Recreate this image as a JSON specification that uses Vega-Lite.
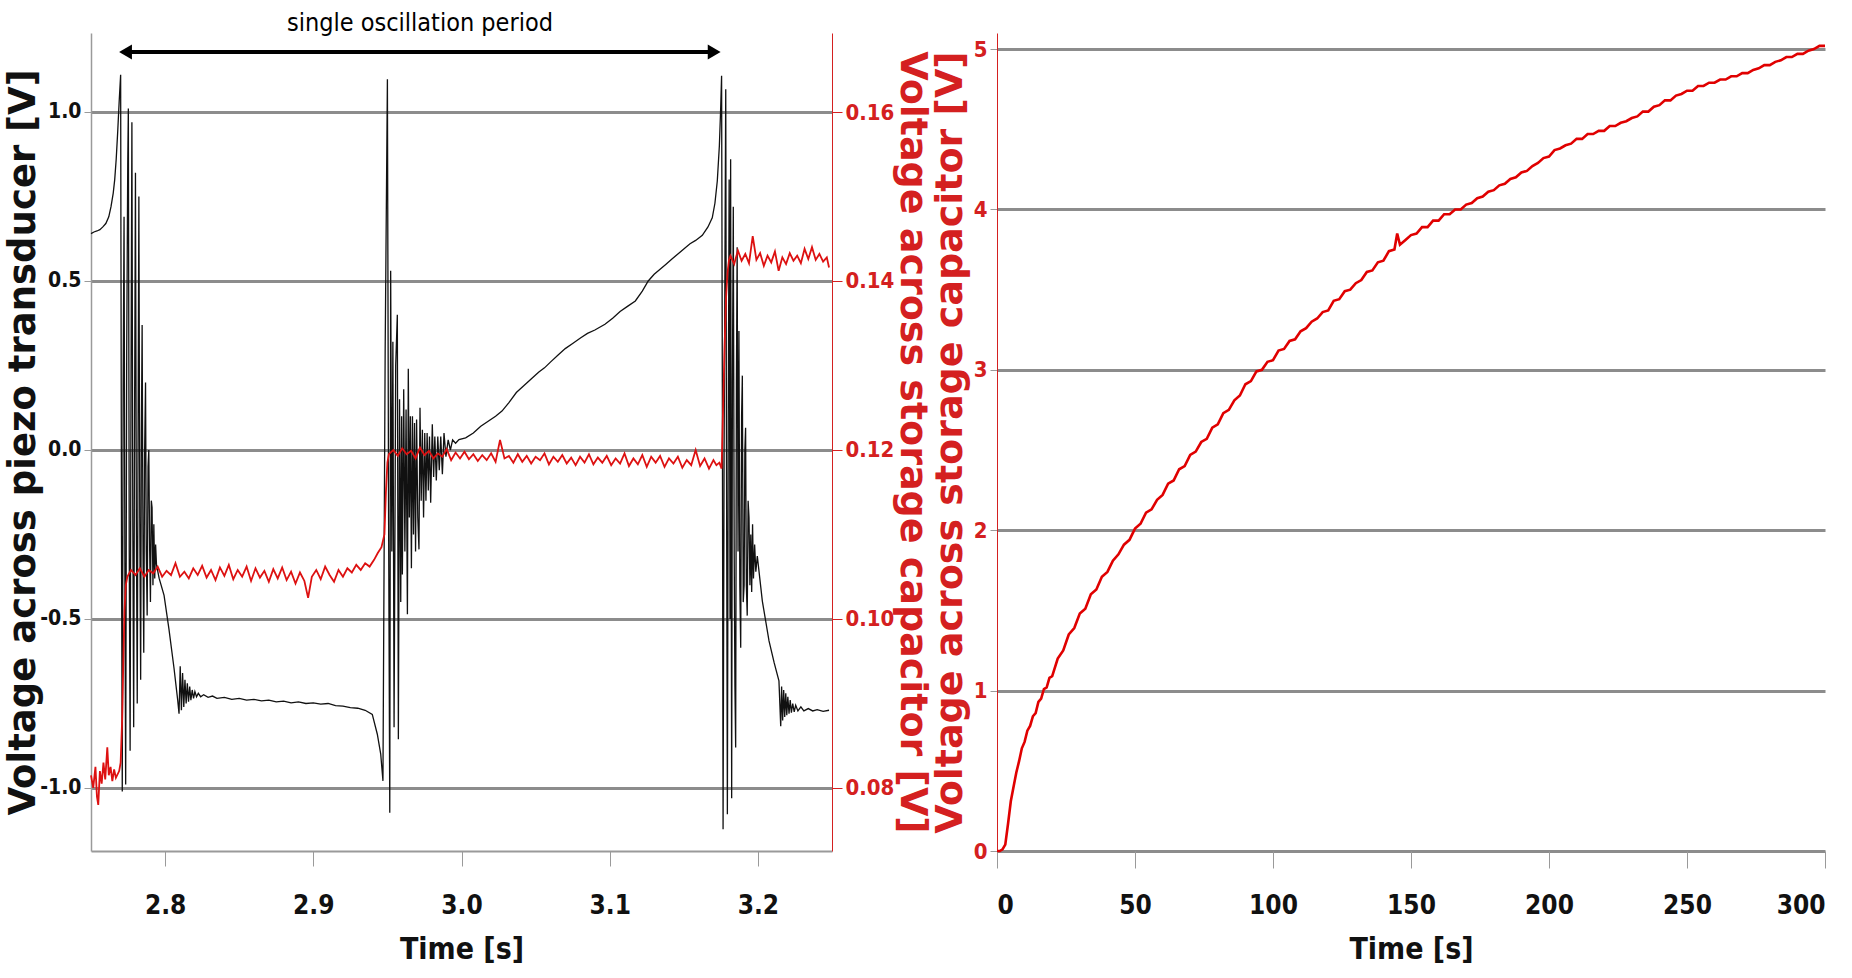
{
  "$schema": "https://vega.github.io/schema/vega-lite/v6.json",
  "background": "white",
  "padding": {"left": 4, "top": 11, "right": 0, "bottom": 0},
  "bounds": "flush",
  "spacing": 165,
  "config": {
    "view": {"stroke": null},
    "axis": {
      "labelFont": "DejaVu Sans Condensed, sans-serif",
      "labelFontWeight": "bold",
      "labelFontSize": 22,
      "labelColor": "#111",
      "titleFont": "DejaVu Sans",
      "titleFontWeight": "bold",
      "titleFontSize": 38,
      "titleColor": "#111",
      "gridColor": "#8c8c8c",
      "gridWidth": 3,
      "gridOpacity": 1,
      "tickColor": "#9a9a9a",
      "domainColor": "#9a9a9a"
    }
  },
  "datasets": {
    "piezo": [
      {"t":2.7500,"v":0.640},{"t":2.7520,"v":0.645},{"t":2.7540,"v":0.648},{"t":2.7560,"v":0.652},{"t":2.7580,"v":0.660},{"t":2.7600,"v":0.670},{"t":2.7620,"v":0.690},{"t":2.7635,"v":0.720},{"t":2.7650,"v":0.760},{"t":2.7660,"v":0.800},{"t":2.7670,"v":0.860},{"t":2.7680,"v":0.940},{"t":2.7690,"v":1.030},{"t":2.7700,"v":1.110},
      {"t":2.7706,"v":-0.30},{"t":2.7711,"v":-1.01},{"t":2.7717,"v":0.20},{"t":2.7723,"v":0.69},{"t":2.7729,"v":-0.40},{"t":2.7734,"v":-0.99},{"t":2.7741,"v":0.30},{"t":2.7748,"v":0.85},{"t":2.7752,"v":1.01},{"t":2.7758,"v":-0.30},{"t":2.7764,"v":-0.89},{"t":2.7770,"v":0.20},{"t":2.7776,"v":0.97},{"t":2.7782,"v":-0.20},{"t":2.7788,"v":-0.82},{"t":2.7794,"v":0.10},{"t":2.7800,"v":0.82},{"t":2.7806,"v":-0.20},{"t":2.7812,"v":-0.75},{"t":2.7818,"v":0.10},{"t":2.7823,"v":0.75},{"t":2.7829,"v":-0.20},{"t":2.7835,"v":-0.68},{"t":2.7840,"v":0.05},{"t":2.7845,"v":0.37},{"t":2.7851,"v":-0.30},{"t":2.7856,"v":-0.60},{"t":2.7862,"v":0.00},{"t":2.7868,"v":0.20},{"t":2.7873,"v":-0.30},{"t":2.7879,"v":-0.49},{"t":2.7885,"v":-0.05},{"t":2.7890,"v":0.00},{"t":2.7896,"v":-0.30},{"t":2.7901,"v":-0.45},{"t":2.7907,"v":-0.15},{"t":2.7912,"v":-0.17},{"t":2.7918,"v":-0.40},{"t":2.7924,"v":-0.22},{"t":2.7930,"v":-0.38},{"t":2.7936,"v":-0.28},{"t":2.7942,"v":-0.34},
      {"t":2.7960,"v":-0.38},{"t":2.7993,"v":-0.43},{"t":2.8026,"v":-0.53},{"t":2.8060,"v":-0.645},{"t":2.8085,"v":-0.74},{"t":2.8094,"v":-0.78},{"t":2.8102,"v":-0.64},{"t":2.8110,"v":-0.77},{"t":2.8118,"v":-0.66},{"t":2.8126,"v":-0.76},{"t":2.8134,"v":-0.68},{"t":2.8142,"v":-0.75},{"t":2.8150,"v":-0.69},{"t":2.8158,"v":-0.745},{"t":2.8166,"v":-0.70},{"t":2.8174,"v":-0.74},{"t":2.8183,"v":-0.71},{"t":2.8192,"v":-0.735},{"t":2.8201,"v":-0.715},{"t":2.8212,"v":-0.73},{"t":2.8224,"v":-0.72},{"t":2.8240,"v":-0.73},{"t":2.8260,"v":-0.724},{"t":2.8290,"v":-0.732},{"t":2.8320,"v":-0.728},{"t":2.8350,"v":-0.735},{"t":2.8400,"v":-0.732},{"t":2.8450,"v":-0.738},{"t":2.8500,"v":-0.735},{"t":2.8550,"v":-0.740},{"t":2.8600,"v":-0.738},{"t":2.8650,"v":-0.742},{"t":2.8700,"v":-0.740},{"t":2.8750,"v":-0.745},{"t":2.8800,"v":-0.743},{"t":2.8850,"v":-0.748},{"t":2.8900,"v":-0.745},{"t":2.8950,"v":-0.750},{"t":2.9000,"v":-0.748},{"t":2.9050,"v":-0.752},{"t":2.9100,"v":-0.750},{"t":2.9150,"v":-0.756},{"t":2.9200,"v":-0.758},{"t":2.9250,"v":-0.762},{"t":2.9300,"v":-0.764},{"t":2.9350,"v":-0.770},{"t":2.9398,"v":-0.782},{"t":2.9432,"v":-0.841},{"t":2.9455,"v":-0.90},{"t":2.9470,"v":-0.979},
      {"t":2.9485,"v":0.30},{"t":2.9500,"v":1.097},{"t":2.9508,"v":-0.20},{"t":2.9516,"v":-1.073},{"t":2.9522,"v":0.53},{"t":2.9530,"v":-0.30},{"t":2.9537,"v":0.32},{"t":2.9545,"v":-0.82},{"t":2.9556,"v":0.25},{"t":2.9567,"v":0.40},{"t":2.9574,"v":-0.856},{"t":2.9582,"v":0.15},{"t":2.9590,"v":-0.45},{"t":2.9596,"v":0.10},{"t":2.9601,"v":-0.368},{"t":2.9610,"v":0.18},{"t":2.9618,"v":-0.30},{"t":2.9626,"v":0.12},{"t":2.9635,"v":-0.486},{"t":2.9641,"v":0.24},{"t":2.9648,"v":-0.20},{"t":2.9655,"v":0.10},{"t":2.9662,"v":-0.35},{"t":2.9669,"v":0.10},{"t":2.9676,"v":-0.25},{"t":2.9683,"v":0.08},{"t":2.9690,"v":-0.30},{"t":2.9697,"v":0.09},{"t":2.9705,"v":-0.20},{"t":2.9713,"v":-0.294},{"t":2.9720,"v":0.125},{"t":2.9728,"v":-0.15},{"t":2.9736,"v":0.06},{"t":2.9744,"v":-0.20},{"t":2.9752,"v":0.05},{"t":2.9760,"v":-0.15},{"t":2.9768,"v":0.05},{"t":2.9776,"v":-0.12},{"t":2.9784,"v":0.04},{"t":2.9792,"v":-0.156},{"t":2.9803,"v":0.076},{"t":2.9812,"v":-0.08},{"t":2.9820,"v":0.04},{"t":2.9830,"v":-0.09},{"t":2.9840,"v":0.04},{"t":2.9850,"v":-0.06},{"t":2.9860,"v":0.04},{"t":2.9871,"v":-0.072},{"t":2.9882,"v":0.05},{"t":2.9895,"v":-0.02},{"t":2.9910,"v":0.03},{"t":2.9925,"v":0.00},{"t":2.9940,"v":0.03},{"t":2.9960,"v":0.02},{"t":2.9983,"v":0.031},
      {"t":3.0028,"v":0.036},{"t":3.0080,"v":0.050},{"t":3.0130,"v":0.070},{"t":3.0180,"v":0.085},{"t":3.0230,"v":0.100},{"t":3.0273,"v":0.115},{"t":3.0320,"v":0.140},{"t":3.0370,"v":0.170},{"t":3.0420,"v":0.190},{"t":3.0470,"v":0.210},{"t":3.0520,"v":0.230},{"t":3.0560,"v":0.243},{"t":3.0600,"v":0.260},{"t":3.0650,"v":0.280},{"t":3.0700,"v":0.300},{"t":3.0750,"v":0.315},{"t":3.0805,"v":0.332},{"t":3.0850,"v":0.345},{"t":3.0900,"v":0.355},{"t":3.0968,"v":0.372},{"t":3.1020,"v":0.390},{"t":3.1070,"v":0.410},{"t":3.1120,"v":0.425},{"t":3.1173,"v":0.441},{"t":3.1220,"v":0.470},{"t":3.1260,"v":0.500},{"t":3.1300,"v":0.520},{"t":3.1340,"v":0.535},{"t":3.1378,"v":0.549},{"t":3.1420,"v":0.565},{"t":3.1460,"v":0.580},{"t":3.1500,"v":0.595},{"t":3.1542,"v":0.610},{"t":3.1580,"v":0.620},{"t":3.1625,"v":0.635},{"t":3.1663,"v":0.660},{"t":3.1692,"v":0.687},{"t":3.1710,"v":0.730},{"t":3.1726,"v":0.796},{"t":3.1740,"v":0.900},{"t":3.1749,"v":1.013},{"t":3.1755,"v":1.107},
      {"t":3.1760,"v":0.20},{"t":3.1765,"v":-1.122},{"t":3.1772,"v":0.00},{"t":3.1783,"v":1.067},{"t":3.1788,"v":0.00},{"t":3.1794,"v":-1.078},{"t":3.1800,"v":0.10},{"t":3.1806,"v":0.80},{"t":3.1812,"v":-0.50},{"t":3.1816,"v":0.86},{"t":3.1819,"v":0.00},{"t":3.1823,"v":-1.03},{"t":3.1828,"v":0.20},{"t":3.1834,"v":0.72},{"t":3.1840,"v":-0.30},{"t":3.1845,"v":-0.70},{"t":3.1850,"v":-0.88},{"t":3.1855,"v":0.20},{"t":3.1860,"v":0.60},{"t":3.1866,"v":-0.30},{"t":3.1872,"v":0.352},{"t":3.1878,"v":-0.40},{"t":3.1884,"v":-0.585},{"t":3.1890,"v":0.10},{"t":3.1895,"v":0.22},{"t":3.1901,"v":-0.45},{"t":3.1907,"v":-0.40},{"t":3.1912,"v":0.00},{"t":3.1917,"v":0.066},{"t":3.1922,"v":-0.40},{"t":3.1928,"v":-0.49},{"t":3.1934,"v":-0.15},{"t":3.1940,"v":-0.20},{"t":3.1946,"v":-0.40},{"t":3.1952,"v":-0.25},{"t":3.1958,"v":-0.42},{"t":3.1964,"v":-0.22},{"t":3.1970,"v":-0.38},{"t":3.1978,"v":-0.28},{"t":3.1986,"v":-0.36},{"t":3.1996,"v":-0.314},
      {"t":3.2030,"v":-0.447},{"t":3.2075,"v":-0.565},{"t":3.2110,"v":-0.63},{"t":3.2142,"v":-0.683},{"t":3.2154,"v":-0.817},{"t":3.2160,"v":-0.70},{"t":3.2167,"v":-0.80},{"t":3.2174,"v":-0.71},{"t":3.2181,"v":-0.79},{"t":3.2188,"v":-0.72},{"t":3.2195,"v":-0.785},{"t":3.2202,"v":-0.73},{"t":3.2210,"v":-0.78},{"t":3.2218,"v":-0.74},{"t":3.2226,"v":-0.777},{"t":3.2235,"v":-0.75},{"t":3.2245,"v":-0.775},{"t":3.2255,"v":-0.755},{"t":3.2270,"v":-0.772},{"t":3.2290,"v":-0.76},{"t":3.2310,"v":-0.772},{"t":3.2340,"v":-0.765},{"t":3.2370,"v":-0.772},{"t":3.2400,"v":-0.768},{"t":3.2440,"v":-0.773},{"t":3.2480,"v":-0.770}
    ],
    "cap": [
      {"t":2.7500,"v":0.0815},{"t":2.7515,"v":0.0800},{"t":2.7530,"v":0.0825},{"t":2.7540,"v":0.0790},{"t":2.7549,"v":0.0780},{"t":2.7560,"v":0.0820},{"t":2.7572,"v":0.0805},{"t":2.7584,"v":0.0830},{"t":2.7596,"v":0.0810},{"t":2.7610,"v":0.0848},{"t":2.7620,"v":0.0815},{"t":2.7632,"v":0.0825},{"t":2.7644,"v":0.0808},{"t":2.7656,"v":0.0822},{"t":2.7668,"v":0.0812},{"t":2.7690,"v":0.0820},{"t":2.7700,"v":0.0830},
      {"t":2.7710,"v":0.0880},{"t":2.7718,"v":0.0950},{"t":2.7726,"v":0.1010},{"t":2.7735,"v":0.1040},{"t":2.7745,"v":0.1050},
      {"t":2.7770,"v":0.1058},{"t":2.7800,"v":0.1052},{"t":2.7830,"v":0.1060},{"t":2.7860,"v":0.1050},{"t":2.7890,"v":0.1058},{"t":2.7920,"v":0.1054},{"t":2.7950,"v":0.1062},{"t":2.7980,"v":0.1050},{"t":2.8010,"v":0.1057},{"t":2.8040,"v":0.1052},{"t":2.8070,"v":0.1066},{"t":2.8100,"v":0.1050},{"t":2.8130,"v":0.1056},{"t":2.8160,"v":0.1048},{"t":2.8190,"v":0.1060},{"t":2.8220,"v":0.1052},{"t":2.8250,"v":0.1063},{"t":2.8280,"v":0.1049},{"t":2.8310,"v":0.1058},{"t":2.8340,"v":0.1046},{"t":2.8370,"v":0.1061},{"t":2.8400,"v":0.1051},{"t":2.8430,"v":0.1064},{"t":2.8460,"v":0.1047},{"t":2.8490,"v":0.1058},{"t":2.8520,"v":0.1050},{"t":2.8550,"v":0.1062},{"t":2.8580,"v":0.1045},{"t":2.8610,"v":0.1060},{"t":2.8640,"v":0.1049},{"t":2.8670,"v":0.1057},{"t":2.8700,"v":0.1044},{"t":2.8730,"v":0.1059},{"t":2.8760,"v":0.1048},{"t":2.8790,"v":0.1061},{"t":2.8820,"v":0.1046},{"t":2.8850,"v":0.1056},{"t":2.8880,"v":0.1042},{"t":2.8910,"v":0.1055},{"t":2.8940,"v":0.1045},{"t":2.8965,"v":0.1025},{"t":2.8990,"v":0.1050},{"t":2.9020,"v":0.1058},{"t":2.9050,"v":0.1047},{"t":2.9080,"v":0.1062},{"t":2.9110,"v":0.1052},{"t":2.9140,"v":0.1044},{"t":2.9170,"v":0.1058},{"t":2.9200,"v":0.1050},{"t":2.9230,"v":0.1060},{"t":2.9260,"v":0.1055},{"t":2.9290,"v":0.1064},{"t":2.9320,"v":0.1058},{"t":2.9350,"v":0.1066},{"t":2.9380,"v":0.1062},{"t":2.9410,"v":0.1070},{"t":2.9435,"v":0.1078},{"t":2.9460,"v":0.1085},{"t":2.9480,"v":0.1100},{"t":2.9490,"v":0.1150},{"t":2.9500,"v":0.1185},{"t":2.9510,"v":0.1195},
      {"t":2.9540,"v":0.1200},{"t":2.9570,"v":0.1193},{"t":2.9600,"v":0.1202},{"t":2.9630,"v":0.1195},{"t":2.9660,"v":0.1199},{"t":2.9690,"v":0.1190},{"t":2.9720,"v":0.1203},{"t":2.9750,"v":0.1194},{"t":2.9780,"v":0.1199},{"t":2.9810,"v":0.1190},{"t":2.9840,"v":0.1196},{"t":2.9870,"v":0.1192},{"t":2.9900,"v":0.1201},{"t":2.9930,"v":0.1188},{"t":2.9960,"v":0.1197},{"t":2.9990,"v":0.1190},{"t":3.0020,"v":0.1198},{"t":3.0050,"v":0.1189},{"t":3.0080,"v":0.1195},{"t":3.0110,"v":0.1187},{"t":3.0140,"v":0.1194},{"t":3.0170,"v":0.1188},{"t":3.0200,"v":0.1196},{"t":3.0230,"v":0.1186},{"t":3.0260,"v":0.1212},{"t":3.0290,"v":0.1190},{"t":3.0320,"v":0.1193},{"t":3.0350,"v":0.1185},{"t":3.0380,"v":0.1195},{"t":3.0410,"v":0.1186},{"t":3.0440,"v":0.1193},{"t":3.0470,"v":0.1184},{"t":3.0500,"v":0.1192},{"t":3.0530,"v":0.1188},{"t":3.0560,"v":0.1196},{"t":3.0590,"v":0.1183},{"t":3.0620,"v":0.1192},{"t":3.0650,"v":0.1186},{"t":3.0680,"v":0.1194},{"t":3.0710,"v":0.1184},{"t":3.0740,"v":0.1191},{"t":3.0770,"v":0.1182},{"t":3.0800,"v":0.1192},{"t":3.0830,"v":0.1185},{"t":3.0860,"v":0.1195},{"t":3.0890,"v":0.1183},{"t":3.0920,"v":0.1191},{"t":3.0950,"v":0.1185},{"t":3.0980,"v":0.1193},{"t":3.1010,"v":0.1182},{"t":3.1040,"v":0.1190},{"t":3.1070,"v":0.1184},{"t":3.1100,"v":0.1196},{"t":3.1130,"v":0.1181},{"t":3.1160,"v":0.1190},{"t":3.1190,"v":0.1183},{"t":3.1220,"v":0.1194},{"t":3.1250,"v":0.1180},{"t":3.1280,"v":0.1192},{"t":3.1310,"v":0.1185},{"t":3.1340,"v":0.1193},{"t":3.1370,"v":0.1180},{"t":3.1400,"v":0.1190},{"t":3.1430,"v":0.1184},{"t":3.1460,"v":0.1192},{"t":3.1490,"v":0.1179},{"t":3.1520,"v":0.1188},{"t":3.1550,"v":0.1182},{"t":3.1580,"v":0.1200},{"t":3.1610,"v":0.1181},{"t":3.1640,"v":0.1190},{"t":3.1670,"v":0.1178},{"t":3.1700,"v":0.1188},{"t":3.1720,"v":0.1182},{"t":3.1740,"v":0.1185},{"t":3.1755,"v":0.1178},
      {"t":3.1765,"v":0.1250},{"t":3.1775,"v":0.1320},{"t":3.1785,"v":0.1380},{"t":3.1795,"v":0.1410},{"t":3.1805,"v":0.1425},{"t":3.1815,"v":0.1430},
      {"t":3.1840,"v":0.1420},{"t":3.1865,"v":0.1436},{"t":3.1890,"v":0.1424},{"t":3.1915,"v":0.1432},{"t":3.1940,"v":0.1421},{"t":3.1965,"v":0.1453},{"t":3.1990,"v":0.1425},{"t":3.2015,"v":0.1433},{"t":3.2040,"v":0.1418},{"t":3.2065,"v":0.1430},{"t":3.2090,"v":0.1422},{"t":3.2115,"v":0.1435},{"t":3.2140,"v":0.1412},{"t":3.2165,"v":0.1428},{"t":3.2190,"v":0.1420},{"t":3.2215,"v":0.1433},{"t":3.2240,"v":0.1424},{"t":3.2265,"v":0.1430},{"t":3.2290,"v":0.1421},{"t":3.2315,"v":0.1438},{"t":3.2340,"v":0.1426},{"t":3.2365,"v":0.1440},{"t":3.2390,"v":0.1425},{"t":3.2415,"v":0.1432},{"t":3.2440,"v":0.1423},{"t":3.2465,"v":0.1428},{"t":3.2480,"v":0.1416}
    ],
    "charge": [
      {"t":0,"v":0.00},{"t":1,"v":0.00},{"t":2,"v":0.01},{"t":3,"v":0.04},{"t":4,"v":0.17},{"t":5,"v":0.31},{"t":6,"v":0.40},{"t":7,"v":0.49},{"t":8,"v":0.56},{"t":9,"v":0.64},{"t":10,"v":0.68},{"t":11,"v":0.75},{"t":12,"v":0.78},{"t":13,"v":0.84},{"t":14,"v":0.86},{"t":15,"v":0.93},{"t":16,"v":0.95},{"t":17,"v":1.01},{"t":18,"v":1.02},{"t":19,"v":1.08},{"t":20,"v":1.09},
      {"t":22,"v":1.20},{"t":24,"v":1.25},{"t":26,"v":1.35},{"t":28,"v":1.39},{"t":30,"v":1.48},{"t":32,"v":1.51},{"t":34,"v":1.60},{"t":36,"v":1.63},{"t":38,"v":1.71},{"t":40,"v":1.74},{"t":42,"v":1.81},{"t":44,"v":1.85},{"t":46,"v":1.91},{"t":48,"v":1.94},{"t":50,"v":2.01},{"t":52,"v":2.04},{"t":54,"v":2.11},{"t":56,"v":2.13},{"t":58,"v":2.19},{"t":60,"v":2.22},{"t":62,"v":2.29},{"t":64,"v":2.31},{"t":66,"v":2.38},{"t":68,"v":2.40},{"t":70,"v":2.47},{"t":72,"v":2.49},{"t":74,"v":2.55},{"t":76,"v":2.57},{"t":78,"v":2.64},{"t":80,"v":2.66},{"t":82,"v":2.73},{"t":84,"v":2.75},{"t":86,"v":2.81},{"t":88,"v":2.84},{"t":90,"v":2.91},{"t":92,"v":2.93},{"t":94,"v":2.99},{"t":96,"v":3.00},{"t":98,"v":3.05},{"t":100,"v":3.06},
      {"t":102,"v":3.12},{"t":104,"v":3.13},{"t":106,"v":3.18},{"t":108,"v":3.19},{"t":110,"v":3.24},{"t":112,"v":3.26},{"t":114,"v":3.30},{"t":116,"v":3.32},{"t":118,"v":3.36},{"t":120,"v":3.37},{"t":122,"v":3.43},{"t":124,"v":3.44},{"t":126,"v":3.49},{"t":128,"v":3.50},{"t":130,"v":3.54},{"t":132,"v":3.56},{"t":134,"v":3.61},{"t":136,"v":3.62},{"t":138,"v":3.67},{"t":140,"v":3.68},{"t":142,"v":3.74},{"t":144,"v":3.75},{"t":145,"v":3.85},{"t":146,"v":3.78},{"t":148,"v":3.81},{"t":150,"v":3.84},{"t":152,"v":3.85},{"t":154,"v":3.89},{"t":156,"v":3.89},{"t":158,"v":3.93},{"t":160,"v":3.93},{"t":162,"v":3.97},{"t":164,"v":3.97},{"t":166,"v":4.00},{"t":168,"v":4.00},{"t":170,"v":4.03},{"t":172,"v":4.04},{"t":174,"v":4.07},{"t":176,"v":4.08},{"t":178,"v":4.11},{"t":180,"v":4.12},{"t":182,"v":4.15},{"t":184,"v":4.16},{"t":186,"v":4.19},{"t":188,"v":4.20},{"t":190,"v":4.23},{"t":192,"v":4.24},{"t":194,"v":4.27},{"t":196,"v":4.29},{"t":198,"v":4.32},{"t":200,"v":4.33},
      {"t":202,"v":4.37},{"t":204,"v":4.38},{"t":206,"v":4.40},{"t":208,"v":4.41},{"t":210,"v":4.44},{"t":212,"v":4.44},{"t":214,"v":4.47},{"t":216,"v":4.47},{"t":218,"v":4.49},{"t":220,"v":4.49},{"t":222,"v":4.52},{"t":224,"v":4.52},{"t":226,"v":4.54},{"t":228,"v":4.55},{"t":230,"v":4.57},{"t":232,"v":4.58},{"t":234,"v":4.61},{"t":236,"v":4.61},{"t":238,"v":4.64},{"t":240,"v":4.65},{"t":242,"v":4.68},{"t":244,"v":4.68},{"t":246,"v":4.71},{"t":248,"v":4.72},{"t":250,"v":4.74},{"t":252,"v":4.74},{"t":254,"v":4.77},{"t":256,"v":4.77},{"t":258,"v":4.79},{"t":260,"v":4.79},{"t":262,"v":4.81},{"t":264,"v":4.81},{"t":266,"v":4.83},{"t":268,"v":4.83},{"t":270,"v":4.85},{"t":272,"v":4.85},{"t":274,"v":4.87},{"t":276,"v":4.88},{"t":278,"v":4.90},{"t":280,"v":4.90},{"t":282,"v":4.92},{"t":284,"v":4.93},{"t":286,"v":4.95},{"t":288,"v":4.95},{"t":290,"v":4.97},{"t":292,"v":4.97},{"t":294,"v":4.99},{"t":296,"v":5.00},{"t":298,"v":5.02},{"t":300,"v":5.02}
    ]
  },
  "hconcat": [
    {
      "width": 741,
      "height": 818,
      "resolve": {"scale": {"y": "independent"}},
      "encoding": {
        "x": {"field": "t", "type": "quantitative",
              "scale": {"domain": [2.75, 3.25], "nice": false, "zero": false},
              "axis": {"title": "Time [s]", "values": [2.8, 2.9, 3.0, 3.1, 3.2], "format": ".1f",
                       "grid": false, "domainWidth": 2, "tickSize": 15, "tickWidth": 1,
                       "labelFontSize": 26, "labelPadding": 26,
                       "titleFont": "DejaVu Sans Condensed, sans-serif", "titleFontSize": 30, "titlePadding": 16}}
      },
      "layer": [
        {
          "data": {"name": "piezo"},
          "mark": {"type": "line", "color": "#111111", "strokeWidth": 1.3},
          "encoding": {
            "y": {"field": "v", "type": "quantitative",
                  "scale": {"domain": [-1.1864, 1.2337], "nice": false, "zero": false},
                  "axis": {"title": "Voltage across piezo transducer [V]", "orient": "left",
                           "values": [-1, -0.5, 0, 0.5, 1],
                           "labelExpr": "datum.value < 0 ? '-' + format(-datum.value, '.1f') : format(datum.value, '.1f')",
                           "grid": true, "tickSize": 7, "domainWidth": 1.5, "labelPadding": 3,
                           "labelFontSize": 21, "titleFontSize": 37, "titlePadding": -3}}
          }
        },
        {
          "data": {"values": [{"t": 2.7733, "v": 1.1775, "t2": 3.1705}]},
          "mark": {"type": "rule", "color": "#000000", "strokeWidth": 4},
          "encoding": {
            "x2": {"field": "t2"},
            "y": {"field": "v", "type": "quantitative", "scale": {"domain": [-1.1864, 1.2337], "nice": false, "zero": false}, "axis": null}
          }
        },
        {
          "data": {"values": [{"t": 2.7733, "v": 1.1775, "dir": "triangle-left"}, {"t": 3.1705, "v": 1.1775, "dir": "triangle-right"}]},
          "mark": {"type": "point", "filled": true, "opacity": 1, "color": "#000000", "size": 220},
          "encoding": {
            "y": {"field": "v", "type": "quantitative", "scale": {"domain": [-1.1864, 1.2337], "nice": false, "zero": false}, "axis": null},
            "shape": {"field": "dir", "type": "nominal", "scale": {"domain": ["triangle-left", "triangle-right"], "range": ["triangle-left", "triangle-right"]}, "legend": null}
          }
        },
        {
          "data": {"values": [{"t": 2.972, "v": 1.263, "label": "single oscillation period"}]},
          "mark": {"type": "text", "font": "DejaVu Sans Condensed, sans-serif", "fontSize": 25, "color": "#000000", "baseline": "middle", "align": "center"},
          "encoding": {
            "y": {"field": "v", "type": "quantitative", "scale": {"domain": [-1.1864, 1.2337], "nice": false, "zero": false}, "axis": null},
            "text": {"field": "label"}
          }
        },
        {
          "data": {"name": "cap"},
          "mark": {"type": "line", "color": "#dd1111", "strokeWidth": 1.8},
          "encoding": {
            "y": {"field": "v", "type": "quantitative",
                  "scale": {"domain": [0.07254, 0.16935], "nice": false, "zero": false},
                  "axis": {"title": "Voltage across storage capacitor [V]", "orient": "right",
                           "values": [0.08, 0.10, 0.12, 0.14, 0.16], "format": ".2f", "grid": false,
                           "domainColor": "#d42020", "tickColor": "#d42020", "tickSize": 10,
                           "labelColor": "#d42020", "titleColor": "#d42020", "labelPadding": 3, "titlePadding": -1}}
          }
        }
      ]
    },
    {
      "width": 828,
      "height": 818,
      "data": {"name": "charge"},
      "mark": {"type": "line", "color": "#e00000", "strokeWidth": 2.6},
      "encoding": {
        "x": {"field": "t", "type": "quantitative",
              "scale": {"domain": [0, 300], "nice": false},
              "axis": {"title": "Time [s]", "values": [0, 50, 100, 150, 200, 250, 300], "grid": false, "domain": false,
                       "tickSize": 17, "tickWidth": 1, "labelFontSize": 26, "labelPadding": 24,
                       "titleFont": "DejaVu Sans Condensed, sans-serif", "titleFontSize": 30, "titlePadding": 16}},
        "y": {"field": "v", "type": "quantitative",
              "scale": {"domain": [0, 5.1], "nice": false},
              "axis": {"title": "Voltage across storage capacitor [V]", "values": [0, 1, 2, 3, 4, 5], "grid": true,
                       "domainColor": "#d42020", "tickSize": 7, "labelColor": "#d42020", "titleColor": "#d42020",
                       "labelPadding": 3, "titlePadding": 4}}
      }
    }
  ]
}
